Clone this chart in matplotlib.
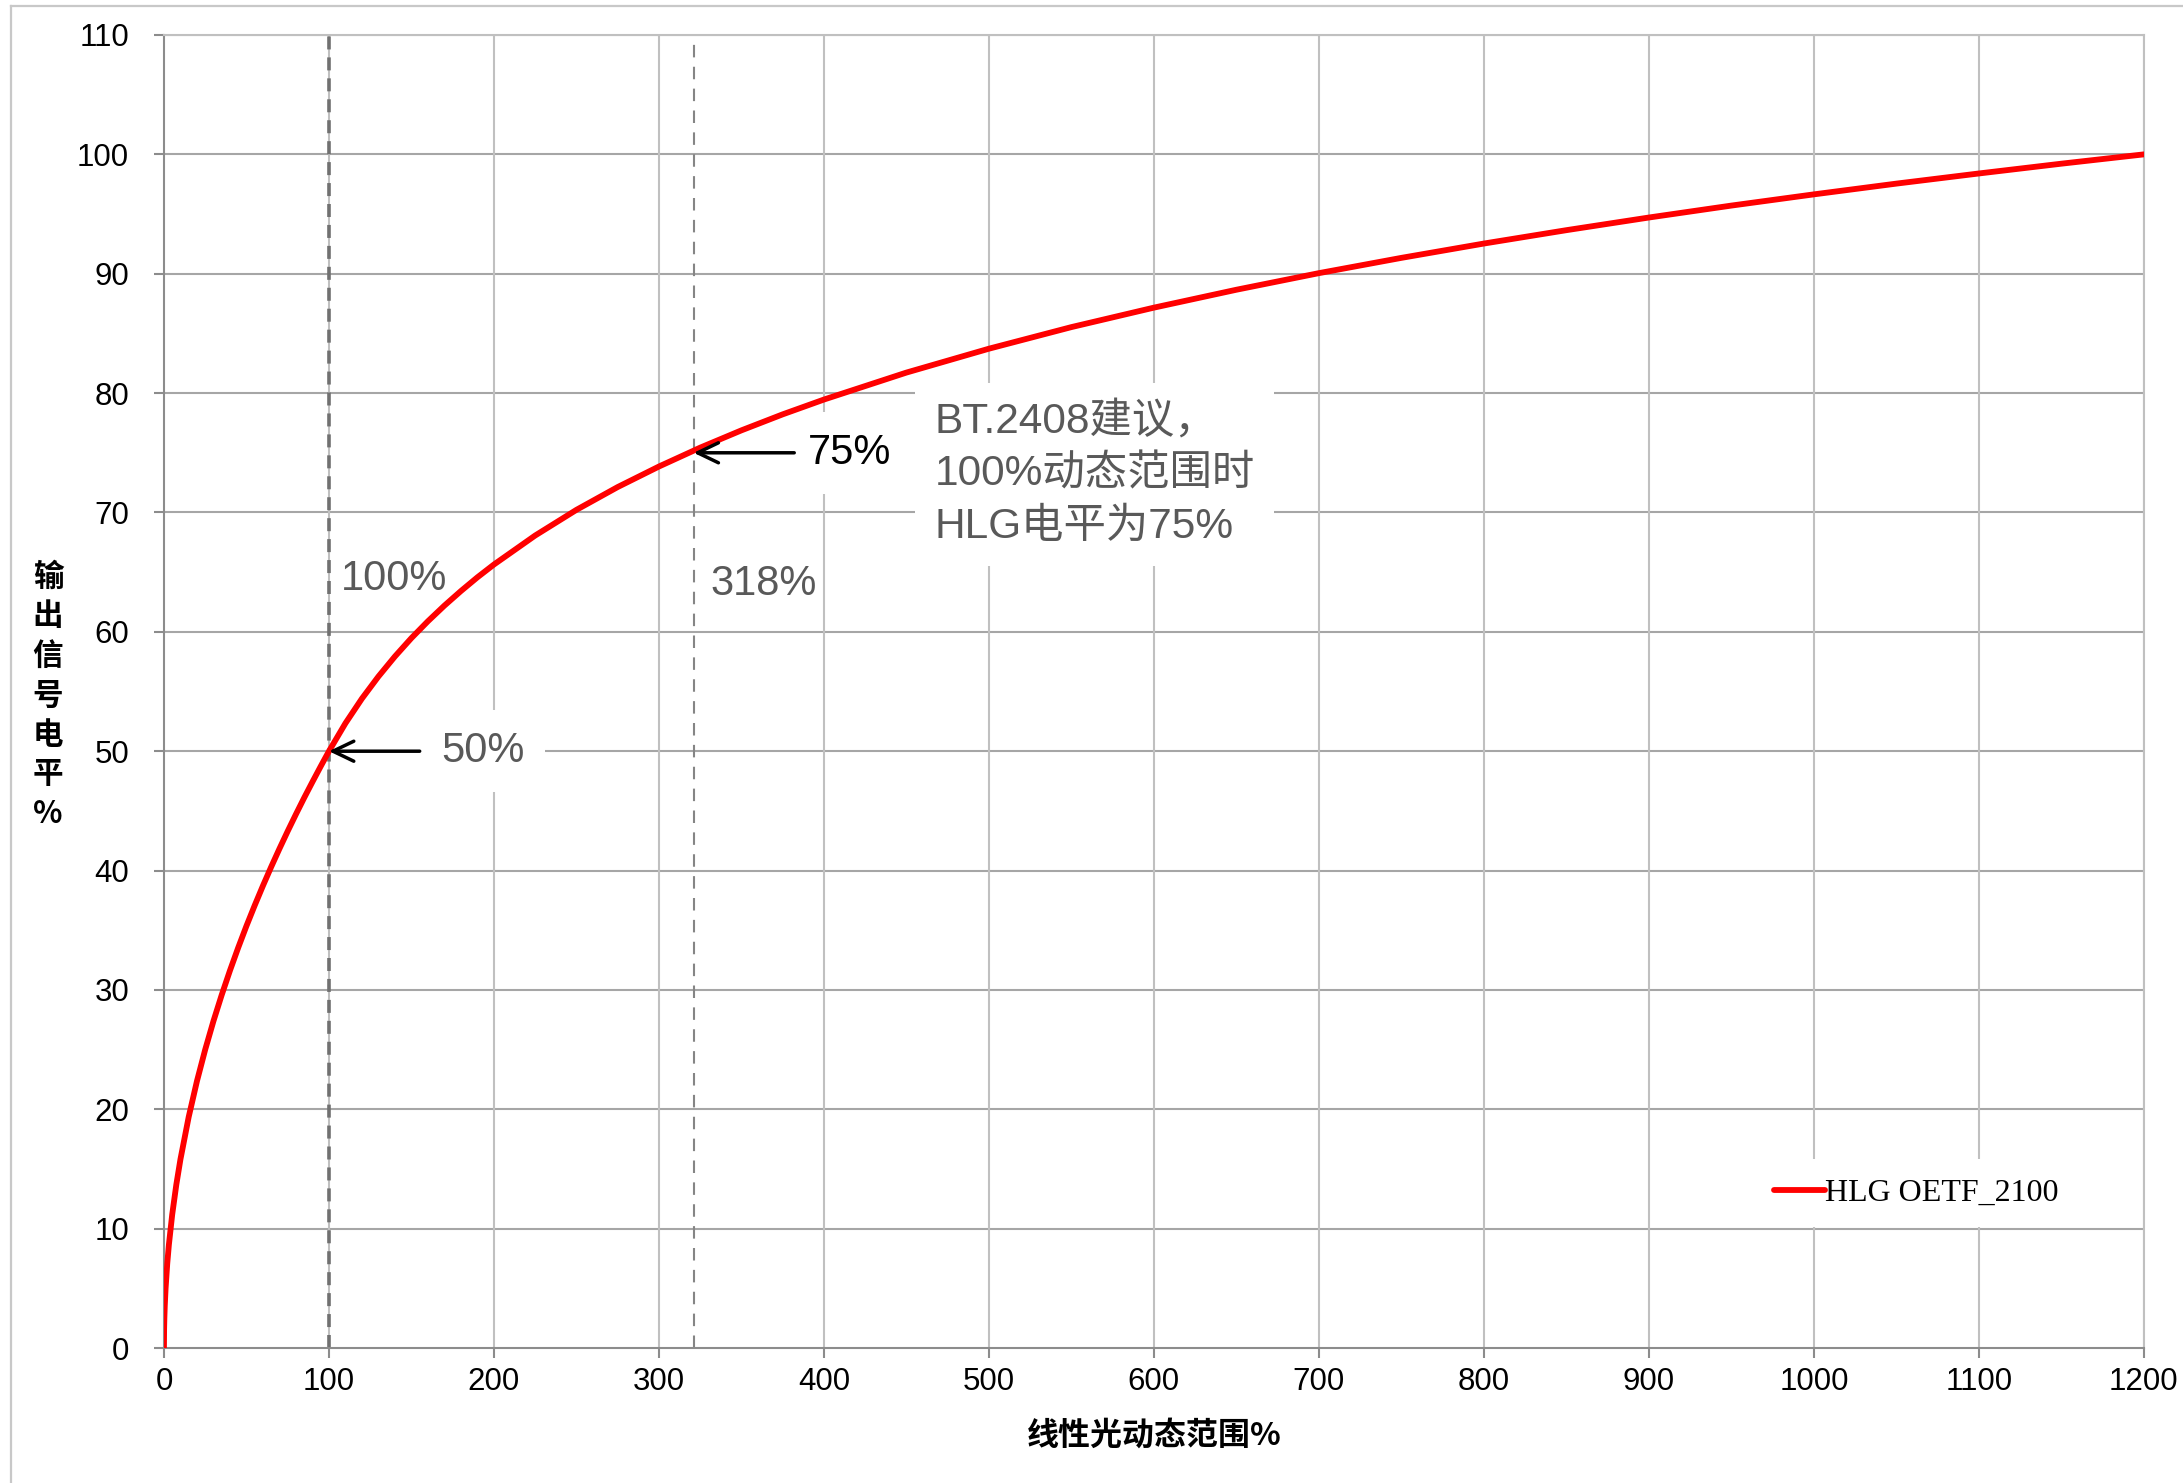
import matplotlib.pyplot as plt
from matplotlib.lines import Line2D

plt.rcParams['font.family'] = ['Liberation Sans', 'Noto Sans CJK SC', 'DejaVu Sans']

# HLG OETF 曲线
linear_pct = [0, 0.1, 0.25, 0.5, 1, 2, 3, 5, 7.5, 10, 15, 20, 25, 30, 35, 40,
              45, 50, 55, 60, 65, 70, 75, 80, 85, 90, 95, 100, 110, 120, 130,
              140, 150, 160, 170, 180, 190, 200, 225, 250, 275, 300, 325, 350,
              375, 400, 450, 500, 550, 600, 650, 700, 750, 800, 850, 900, 950,
              1000, 1050, 1100, 1150, 1200]
signal_pct = [0, 1.58, 2.50, 3.54, 5.00, 7.07, 8.66, 11.18, 13.69, 15.81,
              19.36, 22.36, 25.00, 27.39, 29.58, 31.62, 33.54, 35.36, 37.08,
              38.73, 40.31, 41.83, 43.30, 44.72, 46.10, 47.43, 48.73, 50.00,
              52.34, 54.41, 56.26, 57.94, 59.48, 60.89, 62.20, 63.42, 64.57,
              65.64, 68.07, 70.22, 72.13, 73.85, 75.43, 76.88, 78.22, 79.46,
              81.72, 83.72, 85.53, 87.16, 88.66, 90.05, 91.33, 92.53, 93.65,
              94.71, 95.71, 96.65, 97.55, 98.40, 99.22, 100.0]
series_name = "HLG OETF_2100"

# 参考线
ref_x = [100, 321]
ref_level = [50, 75]
ref_x_text = ["100%", "318%"]
ref_level_text = ["50%", "75%"]
note = "BT.2408建议，\n100%动态范围时\nHLG电平为75%"

x_ticks = list(range(0, 1201, 100))
y_ticks = list(range(0, 111, 10))

fig = plt.figure(figsize=(21.83, 14.83), dpi=100)
ax = fig.add_axes([0.0751, 0.0910, 0.9070, 0.8854])

# 外框
fig.add_artist(Line2D([11 / 2183, 11 / 2183], [0, 1 - 6 / 1483],
                      transform=fig.transFigure, color="#c8c8c8", lw=1.6))
fig.add_artist(Line2D([11 / 2183, 1], [1 - 6 / 1483, 1 - 6 / 1483],
                      transform=fig.transFigure, color="#c8c8c8", lw=1.6))

ax.set_xlim(0, 1200)
ax.set_ylim(0, 110)
ax.set_xticks(x_ticks)
ax.set_yticks(y_ticks)
for y in y_ticks[1:]:
    ax.axhline(y, color="#a6a6a6", lw=1.5, zorder=0)
for x in x_ticks[1:]:
    ax.axvline(x, color="#c0c0c0", lw=1.5, zorder=0)
for side in ["top", "right"]:
    ax.spines[side].set_color("#c0c0c0")
    ax.spines[side].set_linewidth(1.5)
for side in ["left", "bottom"]:
    ax.spines[side].set_color("#8c8c8c")
    ax.spines[side].set_linewidth(1.5)
ax.tick_params(axis="x", length=7, width=1.5, color="#8c8c8c", pad=7,
               labelsize=22.5, labelcolor="black")
ax.tick_params(axis="y", length=7, width=1.5, color="#8c8c8c", pad=18,
               labelsize=22.5, labelcolor="black")

# 参考虚线
ax.axvline(ref_x[0], color="#707070", lw=2.6, dashes=(3.6, 2.2), zorder=2)
ax.axvline(ref_x[1], color="#858585", lw=1.5, dashes=(6, 4.5), zorder=2)

line, = ax.plot(linear_pct, signal_pct, color="red", lw=4.2, zorder=5,
                label=series_name, solid_capstyle="round",
                solid_joinstyle="round")

box = dict(facecolor="white", edgecolor="none", boxstyle="square,pad=0.5")
ax.text(168, ref_level[0], ref_level_text[0], fontsize=30, color="#595959",
        va="center", ha="left", bbox=box, zorder=3)
ax.text(390, ref_level[1], ref_level_text[1], fontsize=30, color="black",
        va="center", ha="left", bbox=box, zorder=3)
ax.text(107, 64.4, ref_x_text[0], fontsize=30, color="#595959",
        va="center", ha="left", zorder=3)
ax.text(331, 64.0, ref_x_text[1], fontsize=30, color="#595959",
        va="center", ha="left", zorder=3)
ax.text(467, 73.2, note, fontsize=30.5, color="#595959", va="center",
        ha="left", linespacing=1.4, zorder=3,
        bbox=dict(facecolor="white", edgecolor="none",
                  boxstyle="square,pad=0.45"))

arrow = dict(arrowstyle="->,head_length=0.75,head_width=0.36", lw=2.5,
             color="black", shrinkA=0, shrinkB=0, mutation_scale=20)
ax.annotate("", xy=(ref_x[0], ref_level[0]), xytext=(155, ref_level[0]),
            arrowprops=arrow, zorder=6)
ax.annotate("", xy=(ref_x[1], ref_level[1]), xytext=(382, ref_level[1]),
            arrowprops=arrow, zorder=6)

leg = ax.legend(handles=[line], loc="center", bbox_to_anchor=(0.885, 0.118),
                frameon=True, framealpha=1, edgecolor="none",
                facecolor="white", handlelength=1.6, handletextpad=0.0,
                borderpad=0.6,
                prop={"family": "Liberation Serif", "size": 23})
leg.set_zorder(4)

ax.set_xlabel("线性光动态范围%", family=["Noto Sans CJK SC"], fontsize=23,
              fontweight="bold", labelpad=16)
ax.set_ylabel("\n".join("输出信号电平%"), family=["Noto Sans CJK SC"],
              fontsize=22, fontweight="bold", rotation=0, va="center",
              ha="center", linespacing=1.3)
ax.yaxis.set_label_coords(-0.0586, 0.497)

fig.savefig("out.png", dpi=100)
